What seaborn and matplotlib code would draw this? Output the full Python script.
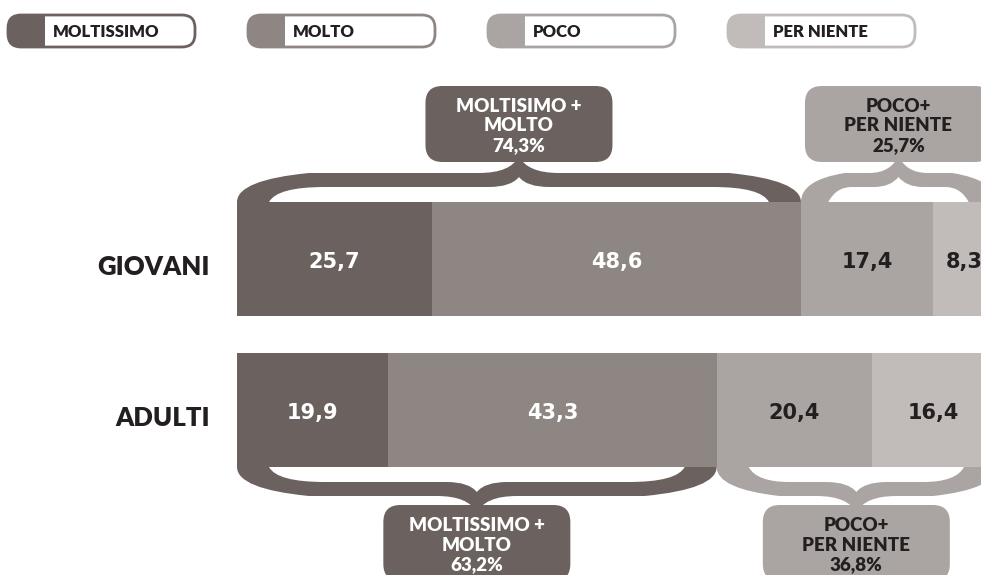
import matplotlib
matplotlib.use("Agg")
import matplotlib.pyplot as plt
import seaborn as sns
import pandas as pd
import numpy as np
from matplotlib.patches import FancyBboxPatch, Rectangle, PathPatch
from matplotlib.path import Path
from matplotlib.transforms import Affine2D

# ---------------- data ----------------
groups = ["GIOVANI", "ADULTI"]
levels = ["MOLTISSIMO", "MOLTO", "POCO", "PER NIENTE"]
giovani = [25.7, 48.6, 17.4, 8.3]
adulti = [19.9, 43.3, 20.4, 16.4]
value_labels_g = ["25,7", "48,6", "17,4", "8,3"]
value_labels_a = ["19,9", "43,3", "20,4", "16,4"]
top_boxes = ["MOLTISIMO +\nMOLTO\n74,3%", "POCO+\nPER NIENTE\n25,7%"]
bottom_boxes = ["MOLTISSIMO +\nMOLTO\n63,2%", "POCO+\nPER NIENTE\n36,8%"]

colors = ["#6b625f", "#8e8683", "#aaa5a2", "#c1bcb9"]
text_dark = "#231f20"
label_colors = ["white", "white", text_dark, text_dark]

W, H = 981, 575
sns.set_theme(style="white")
plt.rcParams["font.family"] = ["Lato", "DejaVu Sans"]
HEAVY = "heavy"

fig = plt.figure(figsize=(W / 100, H / 100), dpi=100)
ax = fig.add_axes([0, 0, 1, 1])

# stacked bars: draw cumulative totals from largest to smallest
rows = []
for g, vals in zip(groups, [giovani, adulti]):
    cum = np.cumsum(vals)
    for lev, c in zip(levels, cum):
        rows.append({"group": g, "level": lev, "cum": c})
df = pd.DataFrame(rows)

for lev, col in reversed(list(zip(levels, colors))):
    sub = df[df["level"] == lev]
    sns.barplot(data=sub, x="cum", y="group", order=groups, orient="h",
                color=col, saturation=1, width=0.755, errorbar=None,
                edgecolor="none", linewidth=0, ax=ax)

px_per_unit = 7.59
x0_px = 237
ax.set_xlim(-x0_px / px_per_unit, (W - x0_px) / px_per_unit)
row0_px, row_gap = 259, 151
ax.set_ylim((H - row0_px) / row_gap, -row0_px / row_gap)
ax.axis("off")

# image-pixel transform (origin top-left)
pix = Affine2D().scale(1, -1).translate(0, H)


def to_img(x, y):
    d = ax.transData.transform((x, y))
    return d[0], H - d[1]


# value labels inside bars
for gi, (vals, labs) in enumerate([(giovani, value_labels_g), (adulti, value_labels_a)]):
    cum = np.cumsum(vals)
    starts = cum - np.array(vals)
    for v, s, lab, lc in zip(vals, starts, labs, label_colors):
        ax.text(s + v / 2, gi + 0.02, lab, ha="center", va="center",
                fontsize=15, fontweight="bold", color=lc,
                family=["DejaVu Sans"])

# category labels
for gi, g in enumerate(groups):
    ax.text(-27 / px_per_unit, gi + 0.05, g, ha="right", va="center",
            fontsize=18.5, fontweight=HEAVY, color=text_dark)


def brace(xa, xb, yb, d, color):
    """Filled curly brace between xa and xb, feet on the bar edge yb,
    opening towards the bar; d = -1 points up, +1 points down."""
    h = (xb - xa) / 2
    xc = (xa + xb) / 2
    re = min(72, 0.45 * h)    # outer end curve length
    rm = min(40, 0.30 * h)    # outer mid curve length
    ft = min(32, 0.28 * h)    # foot width
    ri = min(88, 0.52 * h)    # inner end curve length
    rmi = min(30, 0.25 * h)   # inner mid curve length
    y_out = yb + d * 29
    y_out_c = yb + d * 22
    y_in = yb + d * 15
    y_tip = yb + d * 46
    y_notch = yb + d * 25
    verts = [
        (xa, yb),
        (xa, y_out_c), (xa + re, y_out),
        (xc - rm, y_out),
        (xc - 8, y_out), (xc, y_tip),
        (xc + 8, y_out), (xc + rm, y_out),
        (xb - re, y_out),
        (xb, y_out_c), (xb, yb),
        (xb - ft, yb),
        (xb - ft - 8, y_in), (xb - ri, y_in),
        (xc + rmi, y_in),
        (xc + 8, y_in), (xc, y_notch),
        (xc - 8, y_in), (xc - rmi, y_in),
        (xa + ri, y_in),
        (xa + ft + 8, y_in), (xa + ft, yb),
        (xa, yb),
    ]
    codes = [
        Path.MOVETO,
        Path.CURVE3, Path.CURVE3,
        Path.LINETO,
        Path.CURVE3, Path.CURVE3,
        Path.CURVE3, Path.CURVE3,
        Path.LINETO,
        Path.CURVE3, Path.CURVE3,
        Path.LINETO,
        Path.CURVE3, Path.CURVE3,
        Path.LINETO,
        Path.CURVE3, Path.CURVE3,
        Path.CURVE3, Path.CURVE3,
        Path.LINETO,
        Path.CURVE3, Path.CURVE3,
        Path.CLOSEPOLY,
    ]
    p = PathPatch(Path(verts, codes), facecolor=color, edgecolor="none",
                  transform=pix, zorder=3)
    ax.add_patch(p)
    return xc


def label_box(cx, ytop, text, face, tcolor, w=187, h=76):
    b = FancyBboxPatch((cx - w / 2, ytop), w, h,
                       boxstyle="round,pad=0,rounding_size=17",
                       facecolor=face, edgecolor="none", transform=pix, zorder=4)
    ax.add_patch(b)
    ax.text(cx, ytop + 40, text, ha="center", va="center", transform=pix,
            fontsize=13.5, fontweight=HEAVY, color=tcolor, linespacing=1.2,
            zorder=5)


# braces and summary boxes
for gi, (vals, texts, side) in enumerate([(giovani, top_boxes, -1),
                                          (adulti, bottom_boxes, 1)]):
    cum = np.cumsum(vals)
    bar_edge = to_img(0, gi + side * 0.3775)[1]
    spans = [(0, cum[1]), (cum[1], cum[3])]
    for k, ((a, b), txt) in enumerate(zip(spans, texts)):
        xa = to_img(a, gi)[0]
        xb = to_img(b, gi)[0]
        col = colors[0] if k == 0 else colors[2]
        tcol = "white" if k == 0 else text_dark
        xc = brace(xa, xb, bar_edge, side, col)
        if side < 0:
            label_box(xc, bar_edge - 40 - 76, txt, col, tcol)
        else:
            label_box(xc, bar_edge + 38, txt, col, tcol)

# legend
for i, (lev, col) in enumerate(zip(levels, colors)):
    lx, ly, lw_, lh = 8 + 240 * i, 15, 187, 32
    frame = FancyBboxPatch((lx, ly), lw_, lh, boxstyle="round,pad=0,rounding_size=13",
                           facecolor="white", edgecolor="none", transform=pix, zorder=4)
    ax.add_patch(frame)
    sw = Rectangle((lx - 2, ly - 2), 39, lh + 4, facecolor=col, edgecolor="none",
                   transform=pix, zorder=5)
    ax.add_patch(sw)
    sw.set_clip_path(frame)
    border = FancyBboxPatch((lx, ly), lw_, lh, boxstyle="round,pad=0,rounding_size=13",
                            facecolor="none", edgecolor=col, lw=2.0,
                            transform=pix, zorder=6)
    ax.add_patch(border)
    ax.text(lx + 45, ly + lh / 2 + 1, lev, ha="left", va="center", transform=pix,
            fontsize=12, fontweight=HEAVY, color=text_dark, zorder=7)

fig.savefig("out.png", dpi=100)
